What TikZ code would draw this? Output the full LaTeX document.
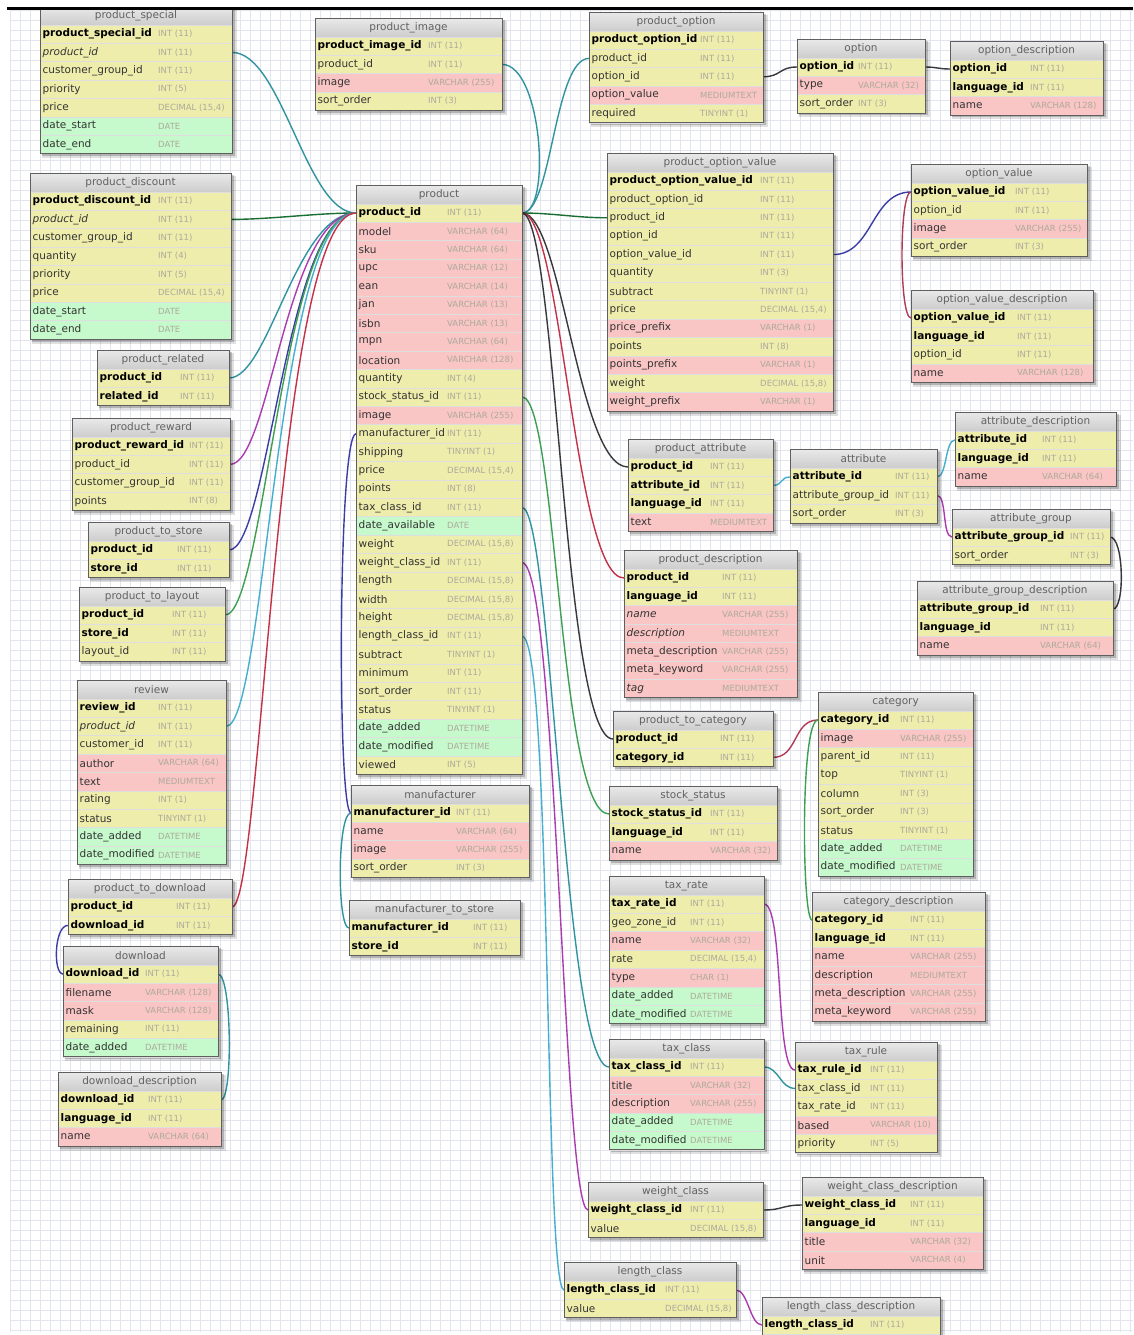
\documentclass[tikz,border=0pt]{standalone}
\usepackage{fontspec}
\setmainfont{DejaVu Sans}
\definecolor{cy}{RGB}{239,237,172}
\definecolor{cp}{RGB}{250,197,197}
\definecolor{cg}{RGB}{198,250,204}
\definecolor{hdrtop}{RGB}{232,232,232}
\definecolor{hdrbot}{RGB}{205,205,205}
\definecolor{bord}{RGB}{95,95,95}
\definecolor{typec}{RGB}{172,170,155}
\definecolor{gridc}{RGB}{226,229,238}
\definecolor{kteal}{RGB}{48,148,160}
\definecolor{kgreen}{RGB}{60,160,80}
\definecolor{kdgreen}{RGB}{25,110,50}
\definecolor{kpurp}{RGB}{170,60,175}
\definecolor{kblue}{RGB}{60,60,165}
\definecolor{kred}{RGB}{195,50,70}
\definecolor{kdark}{RGB}{55,55,60}
\definecolor{kcyan}{RGB}{70,175,205}
\definecolor{kcrim}{RGB}{175,60,85}
\pgfdeclarelayer{gridl}
\pgfdeclarelayer{linkl}
\pgfsetlayers{gridl,linkl,main}
\newcommand\dbfB{\bfseries\color{black}}
\newcommand\dbfI{\itshape\color{black!80}}
\newcommand\dbfN{\color{black!80}}
\tikzset{
  rowbox/.style={rectangle, inner sep=0, outer sep=0, minimum height=18.4, draw=black!13, line width=0.5},
  namet/.style={anchor=west, inner sep=0},
  typet/.style={anchor=west, inner sep=0, text=typec, font=\fontsize{8.5}{10}\selectfont},
  hdrbox/.style={rectangle, inner sep=0, outer sep=0, minimum height=18, top color=hdrtop, bottom color=hdrbot, text=black!62, font=\fontsize{10.5}{12}\selectfont},
  lnk/.style={line width=1.4, line cap=round},
}
% #1 id, #2 x left, #3 first row centre y, #4 width, #5 type x, #6 rows, #7 row list
\newcommand\dbt[7]{%
  \pgfmathsetmacro\dbtop{#3-27.2}%
  \pgfmathsetmacro\dbbot{#3+(#6-1)*18.4+9.2}%
  \pgfmathsetmacro\dbright{#2+#4}%
  \fill[black, opacity=0.12] (#2+2,\dbtop+2) rectangle (\dbright+4.5,\dbbot+4.5);
  \fill[black, opacity=0.2] (#2+1.5,\dbtop+1.5) rectangle (\dbright+2.5,\dbbot+2.5);
  \node[hdrbox, minimum width=#4, anchor=north west] (#1) at (#2,\dbtop) {#1};
  \foreach \rc/\rf/\rn/\rt [count=\k from 0] in {#7} {
    \pgfmathsetmacro\yc{#3+\k*18.4}
    \node[rowbox, fill=\rc, minimum width=#4, anchor=west] (#1-\rn) at (#2,\yc) {};
    \node[namet, font={\fontsize{10.5}{12}\selectfont\csname dbf\rf\endcsname}] (#1-\rn-n) at (#2+2.5,\yc) {\rn};
    \node[typet] (#1-\rn-t) at (#5,\yc) {\rt};
  }
  \draw[bord, line width=0.9] (#2,\dbtop) rectangle (\dbright,\dbbot);
}
\catcode`\_=12
\begin{document}
\begin{tikzpicture}[x=1pt, y=-1pt]
\useasboundingbox (0,0) rectangle (1133,1335);
\begin{pgfonlayer}{gridl}
\fill[white] (0,0) rectangle (1133,1335);
\foreach \gx in {10,20,...,1130} \draw[gridc, line width=0.6] (\gx,10) -- (\gx,1332);
\foreach \gy in {10,20,...,1330} \draw[gridc, line width=0.6] (10,\gy) -- (1133,\gy);
\end{pgfonlayer}

% left column
\dbt{product_special}{40}{34}{192}{158}{7}{cy/B/product_special_id/INT (11), cy/I/product_id/INT (11), cy/N/customer_group_id/INT (11), cy/N/priority/INT (5), cy/N/price/{DECIMAL (15,4)}, cg/N/date_start/DATE, cg/N/date_end/DATE}
\dbt{product_discount}{30}{201}{201}{158}{8}{cy/B/product_discount_id/INT (11), cy/I/product_id/INT (11), cy/N/customer_group_id/INT (11), cy/N/quantity/INT (4), cy/N/priority/INT (5), cy/N/price/{DECIMAL (15,4)}, cg/N/date_start/DATE, cg/N/date_end/DATE}
\dbt{product_related}{97}{378}{132}{180}{2}{cy/B/product_id/INT (11), cy/B/related_id/INT (11)}
\dbt{product_reward}{72}{446}{158}{189}{4}{cy/B/product_reward_id/INT (11), cy/N/product_id/INT (11), cy/N/customer_group_id/INT (11), cy/N/points/INT (8)}
\dbt{product_to_store}{88}{550}{141}{177}{2}{cy/B/product_id/INT (11), cy/B/store_id/INT (11)}
\dbt{product_to_layout}{79}{615}{146}{172}{3}{cy/B/product_id/INT (11), cy/B/store_id/INT (11), cy/N/layout_id/INT (11)}
\dbt{review}{77}{708}{149}{158}{9}{cy/B/review_id/INT (11), cy/I/product_id/INT (11), cy/N/customer_id/INT (11), cp/N/author/VARCHAR (64), cp/N/text/MEDIUMTEXT, cy/N/rating/INT (1), cy/N/status/TINYINT (1), cg/N/date_added/DATETIME, cg/N/date_modified/DATETIME}
\dbt{product_to_download}{68}{907}{164}{176}{2}{cy/B/product_id/INT (11), cy/B/download_id/INT (11)}
\dbt{download}{63}{974}{155}{145}{5}{cy/B/download_id/INT (11), cp/N/filename/VARCHAR (128), cp/N/mask/VARCHAR (128), cy/N/remaining/INT (11), cg/N/date_added/DATETIME}
\dbt{download_description}{58}{1100}{163}{148}{3}{cy/B/download_id/INT (11), cy/B/language_id/INT (11), cp/N/name/VARCHAR (64)}

% middle column
\dbt{product_image}{315}{46}{187}{428}{4}{cy/B/product_image_id/INT (11), cy/N/product_id/INT (11), cp/N/image/VARCHAR (255), cy/N/sort_order/INT (3)}
\dbt{product}{356}{213}{166}{447}{31}{cy/B/product_id/INT (11), cp/N/model/VARCHAR (64), cp/N/sku/VARCHAR (64), cp/N/upc/VARCHAR (12), cp/N/ean/VARCHAR (14), cp/N/jan/VARCHAR (13), cp/N/isbn/VARCHAR (13), cp/N/mpn/VARCHAR (64), cp/N/location/VARCHAR (128), cy/N/quantity/INT (4), cy/N/stock_status_id/INT (11), cp/N/image/VARCHAR (255), cy/N/manufacturer_id/INT (11), cy/N/shipping/TINYINT (1), cy/N/price/{DECIMAL (15,4)}, cy/N/points/INT (8), cy/N/tax_class_id/INT (11), cg/N/date_available/DATE, cy/N/weight/{DECIMAL (15,8)}, cy/N/weight_class_id/INT (11), cy/N/length/{DECIMAL (15,8)}, cy/N/width/{DECIMAL (15,8)}, cy/N/height/{DECIMAL (15,8)}, cy/N/length_class_id/INT (11), cy/N/subtract/TINYINT (1), cy/N/minimum/INT (11), cy/N/sort_order/INT (11), cy/N/status/TINYINT (1), cg/N/date_added/DATETIME, cg/N/date_modified/DATETIME, cy/N/viewed/INT (5)}
\dbt{manufacturer}{351}{813}{178}{456}{4}{cy/B/manufacturer_id/INT (11), cp/N/name/VARCHAR (64), cp/N/image/VARCHAR (255), cy/N/sort_order/INT (3)}
\dbt{manufacturer_to_store}{349}{928}{171}{473}{2}{cy/B/manufacturer_id/INT (11), cy/B/store_id/INT (11)}

% right side
\dbt{product_option}{589}{40}{174}{700}{5}{cy/B/product_option_id/INT (11), cy/N/product_id/INT (11), cy/N/option_id/INT (11), cp/N/option_value/MEDIUMTEXT, cy/N/required/TINYINT (1)}
\dbt{option}{797}{67}{128}{858}{3}{cy/B/option_id/INT (11), cp/N/type/VARCHAR (32), cy/N/sort_order/INT (3)}
\dbt{option_description}{950}{69}{153}{1030}{3}{cy/B/option_id/INT (11), cy/B/language_id/INT (11), cp/N/name/VARCHAR (128)}
\dbt{product_option_value}{607}{181}{226}{760}{13}{cy/B/product_option_value_id/INT (11), cy/N/product_option_id/INT (11), cy/N/product_id/INT (11), cy/N/option_id/INT (11), cy/N/option_value_id/INT (11), cy/N/quantity/INT (3), cy/N/subtract/TINYINT (1), cy/N/price/{DECIMAL (15,4)}, cp/N/price_prefix/VARCHAR (1), cy/N/points/INT (8), cp/N/points_prefix/VARCHAR (1), cy/N/weight/{DECIMAL (15,8)}, cp/N/weight_prefix/VARCHAR (1)}
\dbt{option_value}{911}{192}{176}{1015}{4}{cy/B/option_value_id/INT (11), cy/N/option_id/INT (11), cp/N/image/VARCHAR (255), cy/N/sort_order/INT (3)}
\dbt{option_value_description}{911}{318}{182}{1017}{4}{cy/B/option_value_id/INT (11), cy/B/language_id/INT (11), cy/N/option_id/INT (11), cp/N/name/VARCHAR (128)}
\dbt{attribute_description}{955}{440}{161}{1042}{3}{cy/B/attribute_id/INT (11), cy/B/language_id/INT (11), cp/N/name/VARCHAR (64)}
\dbt{product_attribute}{628}{467}{145}{710}{4}{cy/B/product_id/INT (11), cy/B/attribute_id/INT (11), cy/B/language_id/INT (11), cp/N/text/MEDIUMTEXT}
\dbt{attribute}{790}{477}{147}{895}{3}{cy/B/attribute_id/INT (11), cy/N/attribute_group_id/INT (11), cy/N/sort_order/INT (3)}
\dbt{attribute_group}{952}{537}{158}{1070}{2}{cy/B/attribute_group_id/INT (11), cy/N/sort_order/INT (3)}
\dbt{attribute_group_description}{917}{609}{196}{1040}{3}{cy/B/attribute_group_id/INT (11), cy/B/language_id/INT (11), cp/N/name/VARCHAR (64)}
\dbt{product_description}{624}{578}{173}{722}{7}{cy/B/product_id/INT (11), cy/B/language_id/INT (11), cp/I/name/VARCHAR (255), cp/I/description/MEDIUMTEXT, cp/N/meta_description/VARCHAR (255), cp/N/meta_keyword/VARCHAR (255), cp/I/tag/MEDIUMTEXT}
\dbt{product_to_category}{613}{739}{160}{720}{2}{cy/B/product_id/INT (11), cy/B/category_id/INT (11)}
\dbt{category}{818}{720}{155}{900}{9}{cy/B/category_id/INT (11), cp/N/image/VARCHAR (255), cy/N/parent_id/INT (11), cy/N/top/TINYINT (1), cy/N/column/INT (3), cy/N/sort_order/INT (3), cy/N/status/TINYINT (1), cg/N/date_added/DATETIME, cg/N/date_modified/DATETIME}
\dbt{stock_status}{609}{814}{168}{710}{3}{cy/B/stock_status_id/INT (11), cy/B/language_id/INT (11), cp/N/name/VARCHAR (32)}
\dbt{category_description}{812}{920}{173}{910}{6}{cy/B/category_id/INT (11), cy/B/language_id/INT (11), cp/N/name/VARCHAR (255), cp/N/description/MEDIUMTEXT, cp/N/meta_description/VARCHAR (255), cp/N/meta_keyword/VARCHAR (255)}
\dbt{tax_rate}{609}{904}{155}{690}{7}{cy/B/tax_rate_id/INT (11), cy/N/geo_zone_id/INT (11), cp/N/name/VARCHAR (32), cy/N/rate/{DECIMAL (15,4)}, cp/N/type/CHAR (1), cg/N/date_added/DATETIME, cg/N/date_modified/DATETIME}
\dbt{tax_class}{609}{1067}{155}{690}{5}{cy/B/tax_class_id/INT (11), cp/N/title/VARCHAR (32), cp/N/description/VARCHAR (255), cg/N/date_added/DATETIME, cg/N/date_modified/DATETIME}
\dbt{tax_rule}{795}{1070}{142}{870}{5}{cy/B/tax_rule_id/INT (11), cy/N/tax_class_id/INT (11), cy/N/tax_rate_id/INT (11), cp/N/based/VARCHAR (10), cy/N/priority/INT (5)}
\dbt{weight_class}{588}{1210}{175}{690}{2}{cy/B/weight_class_id/INT (11), cy/N/value/{DECIMAL (15,8)}}
\dbt{weight_class_description}{802}{1205}{181}{910}{4}{cy/B/weight_class_id/INT (11), cy/B/language_id/INT (11), cp/N/title/VARCHAR (32), cp/N/unit/VARCHAR (4)}
\dbt{length_class}{564}{1290}{172}{665}{2}{cy/B/length_class_id/INT (11), cy/N/value/{DECIMAL (15,8)}}
\dbt{length_class_description}{762}{1325}{178}{870}{2}{cy/B/length_class_id/INT (11)}

\begin{pgfonlayer}{linkl}
% left fan into product.product_id
\draw[lnk,kteal] (product_special-product_id.east) .. controls +(50,0) and +(-50,0) .. (product-product_id.west);
\draw[lnk,kdgreen] (product_discount-product_id.east) .. controls +(40,0) and +(-40,0) .. (product-product_id.west);
\draw[lnk,kteal] (product_related-product_id.east) .. controls +(40,0) and +(-60,0) .. (product-product_id.west);
\draw[lnk,kpurp] (product_reward-product_id.east) .. controls +(40,0) and +(-70,0) .. (product-product_id.west);
\draw[lnk,kblue] (product_to_store-product_id.east) .. controls +(40,0) and +(-70,0) .. (product-product_id.west);
\draw[lnk,kgreen] (product_to_layout-product_id.east) .. controls +(40,0) and +(-75,0) .. (product-product_id.west);
\draw[lnk,kcyan] (review-product_id.east) .. controls +(40,0) and +(-80,0) .. (product-product_id.west);
\draw[lnk,kred] (product_to_download-product_id.east) .. controls +(30,0) and +(-80,0) .. (product-product_id.west);
% right fan from product.product_id
\draw[lnk,kteal] (product-product_id.east) .. controls +(30,0) and +(40,0) .. (product_image-product_id.east);
\draw[lnk,kteal] (product-product_id.east) .. controls +(30,0) and +(-35,0) .. (product_option-product_id.west);
\draw[lnk,kdgreen] (product-product_id.east) .. controls +(30,0) and +(-30,0) .. (product_option_value-product_id.west);
\draw[lnk,kdark] (product-product_id.east) .. controls +(40,0) and +(-50,0) .. (product_attribute-product_id.west);
\draw[lnk,kred] (product-product_id.east) .. controls +(40,0) and +(-50,0) .. (product_description-product_id.west);
\draw[lnk,kdark] (product-product_id.east) .. controls +(35,0) and +(-50,0) .. (product_to_category-product_id.west);
% other product links
\draw[lnk,kgreen] (product-stock_status_id.east) .. controls +(35,0) and +(-50,0) .. (stock_status-stock_status_id.west);
\draw[lnk,kteal] (product-tax_class_id.east) .. controls +(30,0) and +(-45,0) .. (tax_class-tax_class_id.west);
\draw[lnk,kpurp] (product-weight_class_id.east) .. controls +(35,0) and +(-25,0) .. (weight_class-weight_class_id.west);
\draw[lnk,kcyan] (product-length_class_id.east) .. controls +(30,0) and +(-20,0) .. (length_class-length_class_id.west);
\draw[lnk,kblue] (product-manufacturer_id.west) .. controls +(-18,0) and +(-14,0) .. (manufacturer-manufacturer_id.west);
\draw[lnk,kteal] (manufacturer-manufacturer_id.west) .. controls +(-14,0) and +(-12,0) .. (manufacturer_to_store-manufacturer_id.west);
% option links
\draw[lnk,kdark] (product_option-option_id.east) .. controls +(18,0) and +(-18,0) .. (option-option_id.west);
\draw[lnk,kdark] (option-option_id.east) .. controls +(12,0) and +(-12,0) .. (option_description-option_id.west);
\draw[lnk,kblue] (product_option_value-option_value_id.east) .. controls +(40,0) and +(-40,0) .. (option_value-option_value_id.west);
\draw[lnk,kcrim] (option_value-option_value_id.west) .. controls +(-12,0) and +(-12,0) .. (option_value_description-option_value_id.west);
% attribute links
\draw[lnk,kcyan] (product_attribute-attribute_id.east) .. controls +(10,0) and +(-10,0) .. (attribute-attribute_id.west);
\draw[lnk,kcyan] (attribute-attribute_id.east) .. controls +(10,0) and +(-10,0) .. (attribute_description-attribute_id.west);
\draw[lnk,kpurp] (attribute-attribute_group_id.east) .. controls +(10,0) and +(-10,0) .. (attribute_group-attribute_group_id.west);
\draw[lnk,kdark] (attribute_group-attribute_group_id.east) .. controls +(14,0) and +(12,0) .. (attribute_group_description-attribute_group_id.east);
% category links
\draw[lnk,kcrim] (product_to_category-category_id.east) .. controls +(25,0) and +(-25,0) .. (category-category_id.west);
\draw[lnk,kgreen] (category-category_id.west) .. controls +(-18,0) and +(-10,0) .. (category_description-category_id.west);
% tax links
\draw[lnk,kpurp] (tax_rate-tax_rate_id.east) .. controls +(20,0) and +(-20,0) .. (tax_rule-tax_rule_id.west);
\draw[lnk,kteal] (tax_class-tax_class_id.east) .. controls +(15,0) and +(-15,0) .. (tax_rule-tax_class_id.west);
% unit links
\draw[lnk,kdark] (weight_class-weight_class_id.east) .. controls +(20,0) and +(-20,0) .. (weight_class_description-weight_class_id.west);
\draw[lnk,kpurp] (length_class-length_class_id.east) .. controls +(12,0) and +(-12,0) .. (length_class_description-length_class_id.west);
% download links
\draw[lnk,kblue] (product_to_download-download_id.west) .. controls +(-14,0) and +(-10,0) .. (download-download_id.west);
\draw[lnk,kteal] (download-download_id.east) .. controls +(14,0) and +(12,0) .. (download_description-download_id.east);
\end{pgfonlayer}

% top edge
\fill[white] (0,0) rectangle (1133,7.5);
\fill[black] (7,7.5) rectangle (1133,10.5);
\end{tikzpicture}
\end{document}
